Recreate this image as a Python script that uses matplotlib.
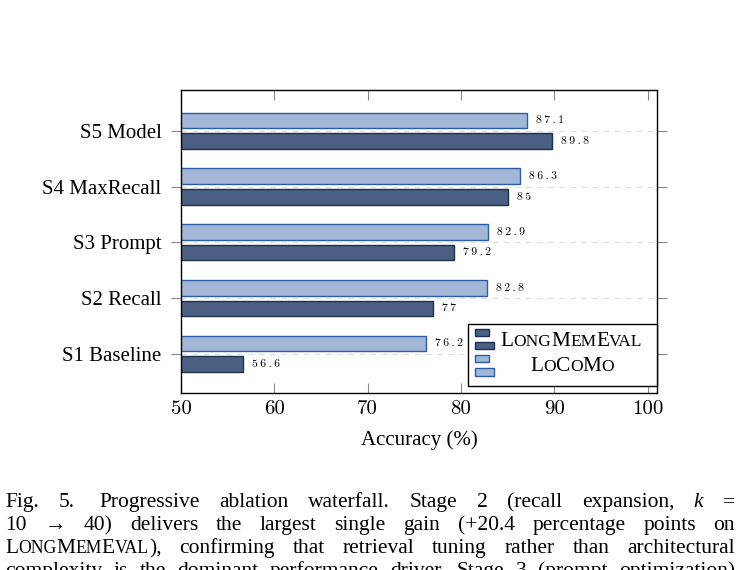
import numpy as np
import matplotlib
matplotlib.use('Agg')
import matplotlib.pyplot as plt
from matplotlib.patches import Rectangle
from matplotlib.transforms import IdentityTransform

plt.rcParams['font.family'] = ['Liberation Serif', 'DejaVu Serif']

# data
stages = ['S1 Baseline', 'S2 Recall', 'S3 Prompt', 'S4 MaxRecall', 'S5 Model']
longmemeval = [56.6, 77, 79.2, 85, 89.8]
locomo = [76.2, 82.8, 82.9, 86.3, 87.1]
xticks = [50, 60, 70, 80, 90, 100]

# caption lines; ~ = small caps word, * = italic word, | = extra space
caption = [
    'Fig. 5.| Progressive ablation waterfall. Stage 2 (recall expansion, *k =',
    '10 \u2192 40) delivers the largest single gain (+20.4 percentage points on',
    '~LongMemEval), confirming that retrieval tuning rather than architectural',
    'complexity is the dominant performance driver. Stage 3 (prompt optimization)',
]

W, H = 740, 570
dark, dark_edge = '#4b5f83', '#1d2f52'
light, light_edge = '#a2b6d5', '#2c5ca6'

fig = plt.figure(figsize=(W / 100, H / 100), dpi=100)
ax = fig.add_axes([181 / W, 1 - 393 / H, 476 / W, 303 / H])

y = np.arange(len(stages))
off, bh = 0.185, 0.28
ax.barh(y - off, longmemeval, height=bh, color=dark, edgecolor=dark_edge, lw=1.0, zorder=2)
ax.barh(y + off, locomo, height=bh, color=light, edgecolor=light_edge, lw=1.0, zorder=2)

thin = '\u2009'
for vals, ys in [(longmemeval, y - off), (locomo, y + off)]:
    for yy, v in zip(ys, vals):
        ax.annotate(thin.join(f'{v:g}'), xy=(v, yy), xytext=(6.5, 0), textcoords='offset points',
                    va='center', ha='left', fontsize=8.5, family=['cmr10', 'DejaVu Serif'])

ax.set_xlim(50, 101)
ax.set_ylim(-0.7, 4.73)
ax.set_yticks(y)
ax.set_yticklabels(stages, fontsize=15)
ax.set_xticks(xticks)
ax.set_xticklabels([str(t) for t in xticks], fontsize=15, family='cmr10')
ax.set_xlabel('Accuracy (%)', fontsize=15, labelpad=9)
ax.tick_params(axis='y', direction='out', length=7, color='#888888', left=True, right=True, pad=7)
ax.tick_params(axis='x', direction='in', length=7, color='#888888', top=True, bottom=True, pad=5)
ax.yaxis.grid(True, ls=(0, (5, 5)), color='#dcdcdc', lw=0.8)
ax.set_axisbelow(True)
for s in ax.spines.values():
    s.set_linewidth(1.0)

renderer = fig.canvas.get_renderer()
ID = IdentityTransform()


def runs_of(word):
    # split a word into small-caps runs: (text, small?)
    out = []
    for c in word:
        small = c.islower()
        ch = c.upper() if small else c
        if out and out[-1][1] == small:
            out[-1] = (out[-1][0] + ch, small)
        else:
            out.append((ch, small))
    return out


def draw_word(x, yb, word, size, italic=False, smallcaps=False, sc=0.82, draw=True):
    runs = runs_of(word) if smallcaps else [(word, False)]
    total = 0
    for txt, small in runs:
        t = fig.text(x + total, yb, txt, transform=ID, fontsize=size * (sc if small else 1),
                     style='italic' if italic else 'normal', va='baseline', ha='left', zorder=8)
        w = t.get_window_extent(renderer).width
        if not draw:
            t.remove()
        total += w
    return total


# legend
fig.add_artist(Rectangle((467.5, H - 386), 189.5, 62.5, transform=ID, facecolor='white',
                         edgecolor='black', lw=1.0, zorder=5))
for (x0, yt, w, h, fc, ec) in [(474.5, 329, 14, 6.5, dark, dark_edge),
                              (474.5, 341.5, 19.5, 7.5, dark, dark_edge),
                              (474.5, 355, 14, 6.5, light, light_edge),
                              (474.5, 368, 19.5, 7.5, light, light_edge)]:
    fig.add_artist(Rectangle((x0, H - yt - h), w, h, transform=ID, facecolor=fc,
                             edgecolor=ec, lw=1.0, zorder=6))
for name, cx, yb in [('LongMemEval', 571.5, 346), ('LoCoMo', 572, 371)]:
    w = draw_word(0, 0, name, 15.3, smallcaps=True, draw=False)
    draw_word(cx - w / 2, H - yb, name, 15.3, smallcaps=True)

# caption, justified
left, right = 5, 735
cap_size = 15.5
for i, line in enumerate(caption):
    yb = H - (507 + 23 * i)
    words = line.replace('|', ' |').split(' ')
    items = []
    for wd in words:
        if wd == '|':
            items[-1][3] += 6
            continue
        it = wd.startswith('*')
        scp = wd.startswith('~')
        items.append([wd.lstrip('*~'), it, scp, 0])
    widths = [draw_word(0, 0, wd, cap_size, italic=it, smallcaps=scp, draw=False)
              for wd, it, scp, _ in items]
    extra = sum(e for *_, e in items)
    gap = (right - left - sum(widths) - extra) / (len(items) - 1)
    x = left
    for (wd, it, scp, e), w in zip(items, widths):
        draw_word(x, yb, wd, cap_size, italic=it, smallcaps=scp)
        x += w + gap + e

fig.savefig('out.png', dpi=100)
